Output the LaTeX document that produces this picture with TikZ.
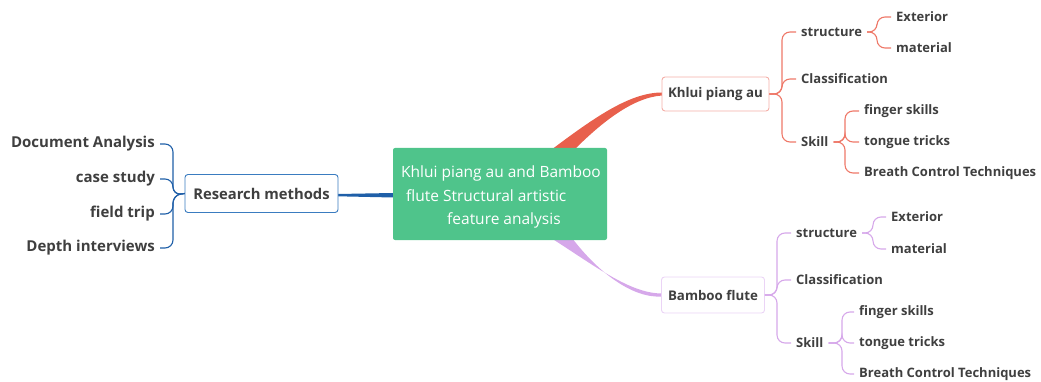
\documentclass[tikz,border=0pt]{standalone}
\usepackage{fontspec}
\setmainfont{Open Sans}
\usetikzlibrary{calc}
\definecolor{txt}{HTML}{3F3F3F}
\definecolor{cgreen}{HTML}{4FC48B}
\definecolor{cblue}{HTML}{1F5FA8}
\definecolor{cbluel}{HTML}{3A7CC0}
\definecolor{cred}{HTML}{E8604C}
\definecolor{credl}{HTML}{EE7868}
\definecolor{credb}{HTML}{F4AFA8}
\definecolor{cpur}{HTML}{D6A8EA}
\definecolor{cpurb}{HTML}{EBD4F6}
\tikzset{
  leafR/.style={anchor=west,inner xsep=5pt,inner ysep=1pt,font=\bfseries\fontsize{13}{15}\selectfont,text=txt},
  leafL/.style={anchor=east,inner xsep=5pt,inner ysep=1pt,font=\bfseries\fontsize{15}{17}\selectfont,text=txt},
  subbox/.style={draw,fill=white,rounded corners=3pt,line width=0.9pt,font=\bfseries\fontsize{13.3}{15}\selectfont,text=txt},
  ctext/.style={text=white,font=\fontsize{15.5}{18}\selectfont,anchor=base west,inner sep=0},
  brace/.style={rounded corners=8pt,line width=1.1pt}
}
\begin{document}
\begin{tikzpicture}[x=1pt,y=-1pt]
\useasboundingbox (0,0) rectangle (1041,382);
% connectors main (tapered)
\fill[cred] (551,150) .. controls (595,117) and (630,92.5) .. (662,92.5)
  -- (662,95.5) .. controls (632,97.5) and (600,124) .. (574,150) -- cycle;
\fill[cpur] (551,238) .. controls (595,266) and (630,293.5) .. (662,293.5)
  -- (662,296.5) .. controls (632,298.5) and (598,272) .. (572,238) -- cycle;
\fill[cblue] (338,194) -- (393,193) -- (393,197.5) -- (338,196.3) -- cycle;
% central
\node[fill=cgreen,rounded corners=2pt,minimum width=214pt,minimum height=92pt] (c) at (500,194) {};
\node[ctext] (c1) at (401,178) {Khlui piang au and Bamboo};
\node[ctext] (c2) at (406,201) {flute Structural artistic};
\node[ctext] (c3) at (447,224) {feature analysis};
% research methods
\node[subbox,draw=cbluel,minimum width=153pt,minimum height=38pt,font=\bfseries\fontsize{14.8}{17}\selectfont] (rm) at (261.5,193.5) {Research methods};
\node[leafL] (l1) at (160,144) {Document Analysis};
\node[leafL] (l2) at (160,179) {case study};
\node[leafL] (l3) at (160,214) {field trip};
\node[leafL] (l4) at (160,248) {Depth interviews};
\coordinate (rs) at (173,195);
\foreach \n in {l1,l2,l3,l4}{\draw[cblue,brace] (rm.west) -- (rs) |- (\n.east);}
% Khlui piang au
\node[subbox,draw=credb,minimum width=107pt,minimum height=34pt] (kh) at (715.5,94) {Khlui piang au};
\coordinate (ks) at (782,94);
\node[leafR] (ka) at (796,32) {structure};
\node[leafR] (kb) at (796,79) {Classification};
\node[leafR] (kc) at (796,142) {Skill};
\foreach \n in {ka,kb,kc}{\draw[credl,brace] (kh.east) -- (ks) |- (\n.west);}
\coordinate (kas) at (877,32);
\node[leafR] (ka1) at (891,17) {Exterior};
\node[leafR] (ka2) at (891,48) {material};
\foreach \n in {ka1,ka2}{\draw[credl,brace] (ka.east) -- (kas) |- (\n.west);}
\coordinate (kcs) at (845,142);
\node[leafR] (kc1) at (859,111) {finger skills};
\node[leafR] (kc2) at (859,142) {tongue tricks};
\node[leafR] (kc3) at (859,173) {Breath Control Techniques};
\foreach \n in {kc1,kc2,kc3}{\draw[credl,brace] (kc.east) -- (kcs) |- (\n.west);}
% Bamboo flute
\node[subbox,draw=cpurb,minimum width=103pt,minimum height=36pt] (bf) at (713,295) {Bamboo flute};
\coordinate (bs) at (777,295);
\node[leafR] (ba) at (791,233) {structure};
\node[leafR] (bb) at (791,280) {Classification};
\node[leafR] (bc) at (791,343) {Skill};
\foreach \n in {ba,bb,bc}{\draw[cpur,brace] (bf.east) -- (bs) |- (\n.west);}
\coordinate (bas) at (873,233);
\node[leafR] (ba1) at (886,217) {Exterior};
\node[leafR] (ba2) at (886,249) {material};
\foreach \n in {ba1,ba2}{\draw[cpur,brace] (ba.east) -- (bas) |- (\n.west);}
\coordinate (bcs) at (842,343);
\node[leafR] (bc1) at (854,312) {finger skills};
\node[leafR] (bc2) at (854,343) {tongue tricks};
\node[leafR] (bc3) at (854,374) {Breath Control Techniques};
\foreach \n in {bc1,bc2,bc3}{\draw[cpur,brace] (bc.east) -- (bcs) |- (\n.west);}
\end{tikzpicture}
\end{document}
